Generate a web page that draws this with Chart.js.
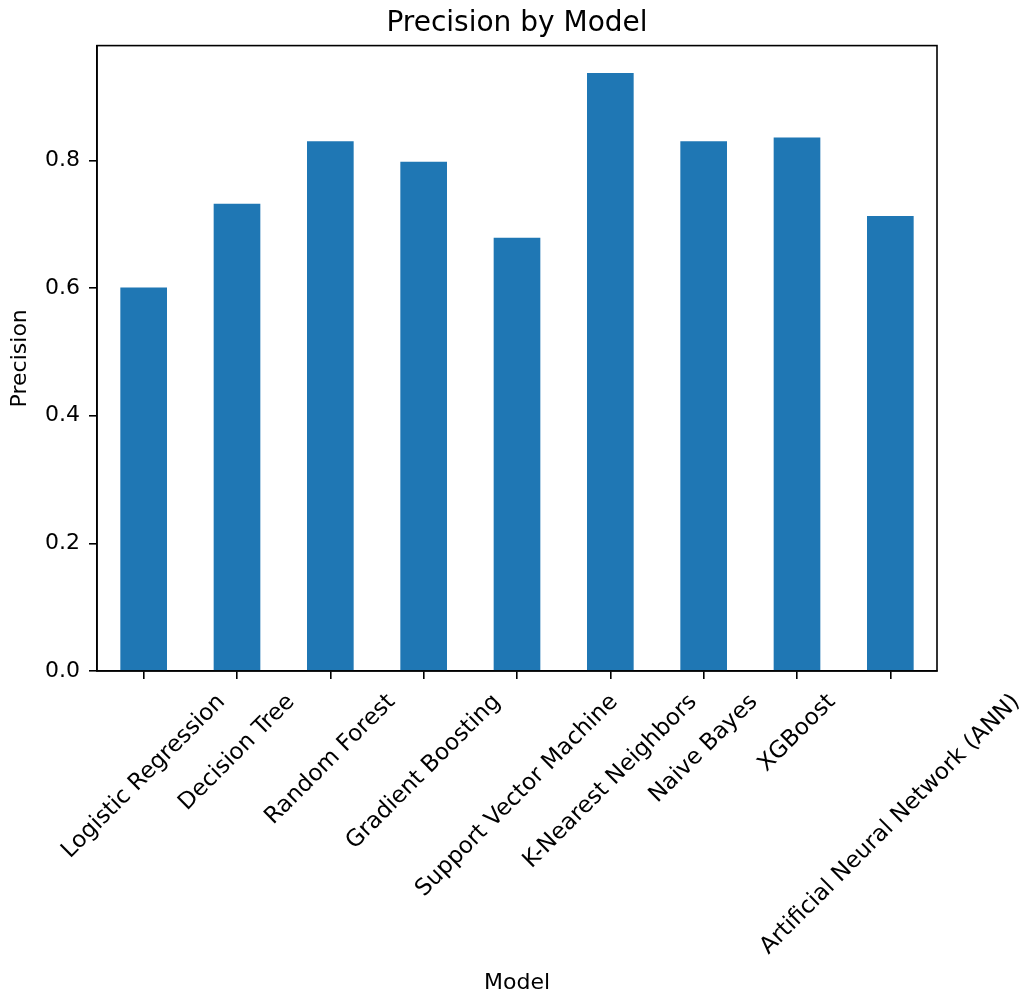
<!DOCTYPE html>
<html>
<head>
<meta charset="utf-8">
<script src="https://cdn.jsdelivr.net/npm/chart.js@4.4.1/dist/chart.umd.min.js"></script>
<style>
  body { margin: 0; background: #fff; }
  #wrap { width: 1029px; height: 1003px; }
</style>
</head>
<body>
<div id="wrap"><canvas id="precisionChart"></canvas></div>
<script>
const models = ['Logistic Regression', 'Decision Tree', 'Random Forest', 'Gradient Boosting',
    'Support Vector Machine', 'K-Nearest Neighbors', 'Naive Bayes', 'XGBoost',
    'Artificial Neural Network (ANN)'];
const precision = [0.601, 0.732, 0.830, 0.798, 0.679, 0.937, 0.830, 0.836, 0.713];
const yTicks = [0.0, 0.2, 0.4, 0.6, 0.8];

Chart.defaults.font.family = '"DejaVu Sans", sans-serif';
Chart.defaults.color = '#000';

// matplotlib-style box around the plot area
const frame = {
    id: 'frame',
    afterDatasetsDraw(chart) {
        const { ctx, chartArea: a } = chart;
        ctx.save();
        ctx.strokeStyle = '#000';
        ctx.lineWidth = 1.6;
        ctx.strokeRect(a.left, a.top, a.right - a.left, a.bottom - a.top);
        ctx.restore();
    }
};

// rotated x labels, centred under each tick like matplotlib's rotation=45
const xLabels = {
    id: 'xLabels',
    afterDraw(chart) {
        const { ctx, chartArea: a } = chart;
        const xs = chart.scales.x;
        const size = 23;
        const h = size * 1.164;
        const y0 = a.bottom + 8 + 10;
        ctx.save();
        ctx.font = size + 'px "DejaVu Sans", sans-serif';
        ctx.fillStyle = '#000';
        ctx.textAlign = 'center';
        ctx.textBaseline = 'middle';
        models.forEach((label, i) => {
            const w = ctx.measureText(label).width;
            const x = xs.getPixelForTick(i);
            const cy = y0 + (w + h) * Math.SQRT1_2 / 2;
            ctx.save();
            ctx.translate(x, cy);
            ctx.rotate(-Math.PI / 4);
            ctx.fillText(label, 0, 0);
            ctx.restore();
        });
        ctx.restore();
    }
};

const ctx = document.getElementById('precisionChart').getContext('2d');
new Chart(ctx, {
    type: 'bar',
    data: {
        labels: models,
        datasets: [{
            label: 'Precision',
            data: precision,
            backgroundColor: '#1f77b4',
            borderWidth: 0,
            categoryPercentage: 0.5,
            barPercentage: 1.0
        }]
    },
    options: {
        responsive: true,
        maintainAspectRatio: false,
        animation: false,
        layout: { padding: { left: 5, right: 0, top: 0, bottom: 0 } },
        plugins: {
            legend: { display: false },
            tooltip: { enabled: false },
            title: {
                display: true,
                text: 'Precision by Model',
                font: { size: 28, weight: 'normal' },
                color: '#000',
                padding: { top: 7, bottom: 5 }
            }
        },
        scales: {
            x: {
                offset: true,
                grid: { display: true, offset: false, drawOnChartArea: false, drawTicks: true, tickLength: 8, color: '#000', lineWidth: 1.6 },
                border: { display: true, color: '#000', width: 1.6 },
                ticks: { display: false },
                title: { display: true, text: 'Model', font: { size: 22 }, color: '#000', padding: { top: 0, bottom: 7 } },
                afterFit(scale) { scale.height = 332; }
            },
            y: {
                min: 0,
                max: 0.98,
                afterBuildTicks(scale) { scale.ticks = yTicks.map(v => ({ value: v })); },
                grid: { display: true, drawOnChartArea: false, drawTicks: true, tickLength: 8, color: '#000', lineWidth: 1.6 },
                border: { display: true, color: '#000', width: 1.6 },
                ticks: {
                    font: { size: 22 },
                    color: '#000',
                    padding: 9,
                    callback: v => Number(v).toFixed(1)
                },
                title: { display: true, text: 'Precision', font: { size: 22 }, color: '#000', padding: { top: 2, bottom: 0 } },
                afterFit(scale) { scale.width = 92; }
            },
            // empty right-hand margin so the title centres over the plot
            margin: {
                type: 'linear',
                position: 'right',
                display: true,
                grid: { display: false },
                border: { display: false },
                ticks: { display: false },
                afterFit(scale) { scale.width = 92; }
            }
        }
    },
    plugins: [frame, xLabels]
});
</script>
</body>
</html>
